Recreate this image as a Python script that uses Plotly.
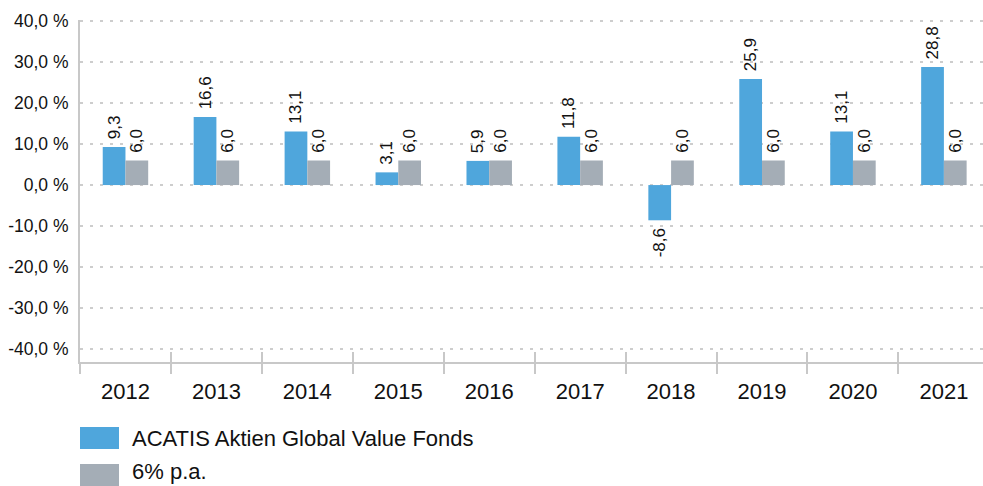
import plotly.graph_objects as go

years = ["2012", "2013", "2014", "2015", "2016", "2017", "2018", "2019", "2020", "2021"]
fund_name = "ACATIS Aktien Global Value Fonds"
bench_name = "6% p.a."
fund_values = [9.3, 16.6, 13.1, 3.1, 5.9, 11.8, -8.6, 25.9, 13.1, 28.8]
bench_values = [6.0, 6.0, 6.0, 6.0, 6.0, 6.0, 6.0, 6.0, 6.0, 6.0]
y_ticks = [40, 30, 20, 10, 0, -10, -20, -30, -40]

BLUE = "#4FA6DC"
GRAY = "#A4ADB6"
FONT = "Liberation Sans, Arial, sans-serif"
NB = "\u00a0"


def fmt(v):
    s = f"{v:.1f}".replace(".", ",")
    return (NB + s) if v >= 0 else (s + NB)


fig = go.Figure()
for name, vals, col in [(fund_name, fund_values, BLUE), (bench_name, bench_values, GRAY)]:
    fig.add_trace(go.Bar(
        x=years, y=vals, name=name, marker=dict(color=col, line=dict(width=0)),
        text=[fmt(v) for v in vals], textposition="outside", textangle=-90,
        textfont=dict(family=FONT, size=17, color="#111111"),
        constraintext="none", cliponaxis=False, showlegend=False,
    ))

# secondary axis for the upward part of the category tick marks
fig.add_trace(go.Scatter(x=years, y=[None] * len(years), xaxis="x2", showlegend=False, hoverinfo="skip"))

fig.update_layout(
    width=983, height=486,
    margin=dict(l=80, r=0, t=20, b=124, autoexpand=False),
    paper_bgcolor="white", plot_bgcolor="white",
    barmode="group", bargap=0.5, bargroupgap=0,
    font=dict(family=FONT, color="#111111"),
    xaxis=dict(
        type="category", range=[-0.5, 9.43], automargin=False,
        showgrid=False, zeroline=False,
        showline=True, linecolor="#C8C8C8", linewidth=2,
        ticks="outside", tickson="boundaries", ticklen=10, tickwidth=2, tickcolor="#C8C8C8",
        ticklabelstandoff=9,
        tickfont=dict(size=22, family=FONT, color="#111111"),
    ),
    xaxis2=dict(
        type="category", range=[-0.5, 9.43], overlaying="x", anchor="y", automargin=False,
        showgrid=False, zeroline=False, showline=False, showticklabels=False,
        ticks="inside", tickson="boundaries", ticklen=10, tickwidth=2, tickcolor="#C8C8C8",
    ),
    yaxis=dict(
        range=[-43.2, 40.3], automargin=False,
        tickmode="array", tickvals=y_ticks,
        ticktext=[f"{t:.1f}".replace(".", ",") + " %" for t in y_ticks],
        tickfont=dict(size=17.5, family=FONT, color="#111111"),
        showgrid=True, gridcolor="#CDCDCD", gridwidth=2, griddash="3px,7px",
        zeroline=False, showline=True, linecolor="#C8C8C8", linewidth=2,
        ticks="outside", ticklen=6, tickcolor="rgba(0,0,0,0)",
    ),
)

# custom legend (large swatches)
legend_items = [(fund_name, BLUE), (bench_name, GRAY)]
for i, (name, col) in enumerate(legend_items):
    top = 427 + i * 37
    y0 = (362 - top) / 342
    y1 = (362 - (top + 22)) / 342
    fig.add_shape(type="rect", xref="paper", yref="paper", x0=0, x1=39 / 903,
                  y0=y1, y1=y0, fillcolor=col, line=dict(width=0))
    if i == 0:
        ty, yanchor = (y0 + y1) / 2, "middle"
    else:
        ty, yanchor = (362 - 486) / 342, "bottom"
    fig.add_annotation(xref="paper", yref="paper", x=50 / 903, y=ty,
                       xanchor="left", yanchor=yanchor, showarrow=False,
                       text=name, font=dict(size=22, family=FONT, color="#111111"))

fig.write_html("out.html", config={"displayModeBar": False},
               post_script="document.body.style.margin='0';document.body.style.overflow='hidden';")
